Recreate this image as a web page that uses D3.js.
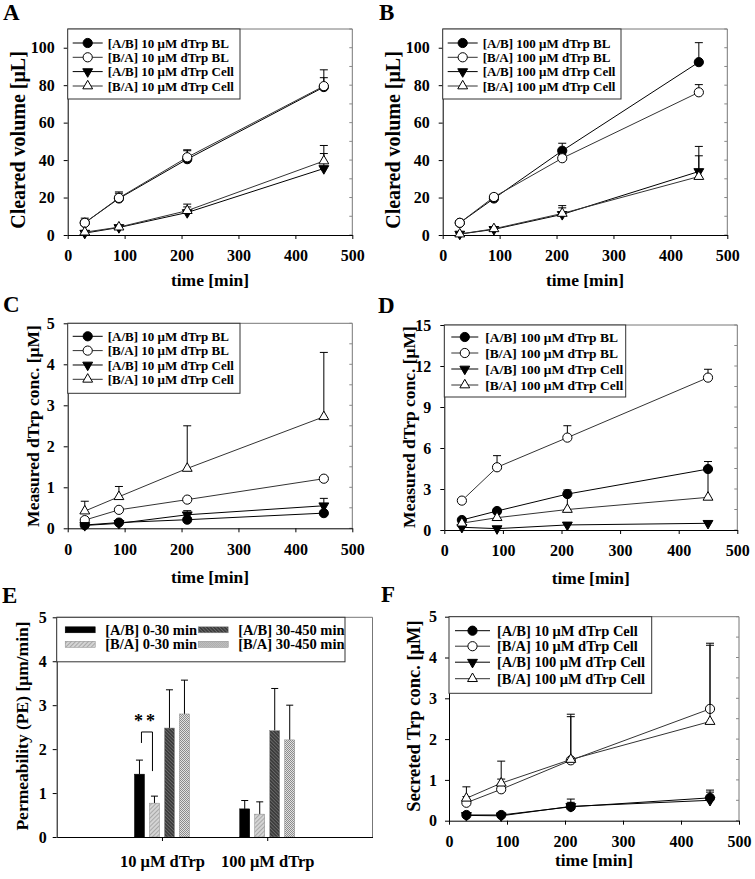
<!DOCTYPE html>
<html><head><meta charset="utf-8">
<script src="https://cdn.jsdelivr.net/npm/d3@7"></script>
<style>
body{margin:0;background:#fff}
svg{display:block}
text{font-family:"Liberation Serif","Times New Roman",serif;font-weight:bold}
</style>
</head><body>
<svg id="c" width="755" height="879"></svg>
<script>
// ---------------- DATA ----------------
const timePoints = [30, 90, 210, 450];
const xTickValues = [0, 100, 200, 300, 400, 500];

// Panel A: cleared volume, 10 µM
const aLabels = ["[A/B] 10 μM dTrp BL", "[B/A] 10 μM dTrp BL", "[A/B] 10 μM dTrp Cell", "[B/A] 10 μM dTrp Cell"];
const aABBL = [6.5, 19.5, 40.5, 79.0];   const aABBLsd = [2.5, 3.5, 4.5, 5.0];
const aBABL = [6.5, 19.8, 41.5, 79.5];   const aBABLsd = [1.5, 2.5, 4.0, 8.7];
const aABCell = [1.0, 4.0, 12.0, 35.5];  const aABCellsd = [0.5, 0.8, 3.0, 8.0];
const aBACell = [1.5, 4.2, 13.0, 39.5];  const aBACellsd = [0.5, 0.8, 3.5, 8.3];
const aYTicks = [0, 20, 40, 60, 80, 100];

// Panel B: cleared volume, 100 µM
const bLabels = ["[A/B] 100 μM dTrp BL", "[B/A] 100 μM dTrp BL", "[A/B] 100 μM dTrp Cell", "[B/A] 100 μM dTrp Cell"];
const bABBL = [6.5, 19.5, 45.0, 92.3];   const bABBLsd = [1.0, 1.5, 4.0, 10.4];
const bBABL = [6.5, 20.3, 41.0, 76.2];   const bBABLsd = [1.0, 1.5, 2.0, 4.1];
const bABCell = [0.5, 3.0, 11.0, 33.9];  const bABCellsd = [0.3, 0.8, 4.7, 13.4];
const bBACell = [0.5, 3.3, 11.5, 31.2];  const bBACellsd = [0.3, 0.8, 3.0, 11.1];
const bYTicks = [0, 20, 40, 60, 80, 100];

// Panel C: measured dTrp conc., 10 µM
const cLabels = aLabels;
const cABBL = [0.08, 0.14, 0.21, 0.37];  const cABBLsd = [0.02, 0.02, 0.05, 0.05];
const cBABL = [0.20, 0.45, 0.70, 1.21];  const cBABLsd = [0.03, 0.03, 0.04, 0.05];
const cABCell = [0.07, 0.12, 0.33, 0.55]; const cABCellsd = [0.03, 0.03, 0.10, 0.18];
const cBACell = [0.42, 0.77, 1.46, 2.72]; const cBACellsd = [0.24, 0.25, 1.04, 1.57];
const cYTicks = [0, 1, 2, 3, 4, 5];

// Panel D: measured dTrp conc., 100 µM
const dLabels = bLabels;
const dABBL = [0.73, 1.39, 2.63, 4.46];  const dABBLsd = [0.10, 0.15, 0.30, 0.55];
const dBABL = [2.15, 4.59, 6.76, 11.15]; const dBABLsd = [0.15, 0.85, 0.87, 0.61];
const dABCell = [0.20, 0.10, 0.37, 0.49]; const dABCellsd = [0.05, 0.05, 0.05, 0.05];
const dBACell = [0.50, 0.90, 1.50, 2.39]; const dBACellsd = [0.20, 0.30, 1.10, 2.00];
const dYTicks = [0, 3, 6, 9, 12, 15];

// Panel E: permeability bars
const eCategories = ["10 μM dTrp", "100 μM dTrp"];
const eSeriesNames = ["[A/B] 0-30 min", "[B/A] 0-30 min", "[A/B] 30-450 min", "[B/A] 30-450 min"];
const eAB030 = [1.43, 0.64];   const eAB030sd = [0.32, 0.19];
const eBA030 = [0.77, 0.52];   const eBA030sd = [0.16, 0.28];
const eAB30450 = [2.48, 2.42]; const eAB30450sd = [0.87, 0.96];
const eBA30450 = [2.80, 2.21]; const eBA30450sd = [0.77, 0.79];
const eYTicks = [0, 1, 2, 3, 4, 5];

// Panel F: secreted Trp conc.
const fLabels = ["[A/B] 10 μM dTrp Cell", "[B/A] 10 μM dTrp Cell", "[A/B] 100 μM dTrp Cell", "[B/A] 100 μM dTrp Cell"];
const fAB10 = [0.14, 0.14, 0.34, 0.56];  const fAB10sd = [0.03, 0.03, 0.19, 0.19];
const fBA10 = [0.44, 0.77, 1.48, 2.74];  const fBA10sd = [0.15, 0.25, 1.07, 1.61];
const fAB100 = [0.13, 0.12, 0.35, 0.50]; const fAB100sd = [0.03, 0.03, 0.10, 0.20];
const fBA100 = [0.55, 0.92, 1.50, 2.43]; const fBA100sd = [0.28, 0.54, 1.11, 1.87];
const fYTicks = [0, 1, 2, 3, 4, 5];

// ---------------- DRAWING ----------------
const svg = d3.select("#c");
const kinds = ["circleFilled", "circleOpen", "triDownFilled", "triUpOpen"];
const lineColors = ["#000", "#333", "#000", "#333"];
const intFmt = d3.format("d");

function drawMarker(g, kind, cx, cy) {
  if (kind === "circleFilled" || kind === "circleOpen") {
    g.append("circle").attr("cx", cx).attr("cy", cy).attr("r", 4.6)
      .attr("fill", kind === "circleFilled" ? "#000" : "#fff")
      .attr("stroke", "#000").attr("stroke-width", 1);
  } else {
    const down = kind === "triDownFilled";
    g.append("path").attr("d", d3.symbol(d3.symbolTriangle, 42)())
      .attr("transform", `translate(${cx},${cy})${down ? " rotate(180)" : ""}`)
      .attr("fill", down ? "#000" : "#fff")
      .attr("stroke", "#000").attr("stroke-width", 1);
  }
}

function styleAxis(g, fs) {
  g.attr("font-size", fs).attr("font-family", null);
  g.selectAll("text").attr("fill", "#000");
  g.select(".domain").attr("stroke", "#000");
  g.selectAll(".tick line").attr("stroke", "#000");
}

function letter(t, x, y) {
  svg.append("text").attr("x", x).attr("y", y).attr("font-size", 23).text(t);
}

function yTitle(t, x, y, fs) {
  svg.append("text").attr("transform", `translate(${x},${y}) rotate(-90)`)
    .attr("text-anchor", "middle").attr("dy", "0.35em").attr("font-size", fs).text(t);
}

function linePanel(cfg) {
  const g = svg.append("g");
  const x = d3.scaleLinear().domain([0, 500]).range([cfg.left, cfg.right]);
  const y = d3.scaleLinear().domain([0, cfg.yMax]).range([cfg.bottom, cfg.top]);

  g.append("line").attr("x1", cfg.left).attr("x2", cfg.right).attr("y1", cfg.top).attr("y2", cfg.top)
    .attr("stroke", "#777");
  g.append("line").attr("x1", cfg.right).attr("x2", cfg.right).attr("y1", cfg.top).attr("y2", cfg.bottom)
    .attr("stroke", "#777");
  const minor = d3.range(0, cfg.yMax + 1e-9, cfg.minor);
  g.selectAll(null).data(minor).join("line")
    .attr("x1", cfg.right).attr("x2", cfg.right - 3)
    .attr("y1", d => y(d)).attr("y2", d => y(d)).attr("stroke", "#888");

  const gx = g.append("g").attr("transform", `translate(0,${cfg.bottom})`)
    .call(d3.axisBottom(x).tickValues(xTickValues).tickFormat(intFmt).tickSize(4).tickPadding(11).tickSizeOuter(0));
  styleAxis(gx, 16);
  const gy = g.append("g").attr("transform", `translate(${cfg.left},0)`)
    .call(d3.axisLeft(y).tickValues(cfg.yTicks).tickFormat(intFmt).tickSize(4).tickPadding(cfg.yPad).tickSizeOuter(0));
  styleAxis(gy, 16);

  cfg.series.forEach((s, i) => {
    const pts = timePoints.map((t, j) => ({ x: x(t), y: y(s.vals[j]), e: y(s.vals[j] + s.sd[j]) }));
    const sg = g.append("g");
    pts.forEach(p => {
      sg.append("line").attr("x1", p.x).attr("x2", p.x).attr("y1", p.y).attr("y2", p.e).attr("stroke", "#000");
      sg.append("line").attr("x1", p.x - 4).attr("x2", p.x + 4).attr("y1", p.e).attr("y2", p.e).attr("stroke", "#000");
    });
    sg.append("path").datum(pts)
      .attr("d", d3.line().x(d => d.x).y(d => d.y))
      .attr("fill", "none").attr("stroke", lineColors[i]).attr("stroke-width", 1);
    pts.forEach(p => drawMarker(sg, kinds[i], p.x, p.y));
  });

  const L = cfg.legend;
  const lg = g.append("g").attr("transform", `translate(${cfg.left},${cfg.top})`);
  lg.append("rect").attr("x", 0).attr("y", 0).attr("width", L.w).attr("height", L.h)
    .attr("fill", "#fff").attr("stroke", "#333");
  cfg.series.forEach((s, i) => {
    const ry = L.rows[i];
    lg.append("line").attr("x1", L.l0).attr("x2", L.l1).attr("y1", ry).attr("y2", ry)
      .attr("stroke", lineColors[i]);
    drawMarker(lg, kinds[i], (L.l0 + L.l1) / 2, ry);
    lg.append("text").attr("x", L.tx).attr("y", ry).attr("dy", "0.35em")
      .attr("font-size", L.fs).text(s.label);
  });

  svg.append("text").attr("x", (cfg.left + cfg.right) / 2).attr("y", cfg.xTitleY)
    .attr("dy", "0.35em").attr("text-anchor", "middle").attr("font-size", 17.5).text("time [min]");
  yTitle(cfg.yTitle, cfg.yTitleX, cfg.yTitleY, cfg.yTitleFs);
  letter(cfg.letter, cfg.letterX, cfg.letterY);
}

function mk(labels, vals, sds) {
  return labels.map((l, i) => ({ label: l, vals: vals[i], sd: sds[i] }));
}

linePanel({
  left: 67.7, right: 352.3, top: 29, bottom: 235, yMax: 110, yTicks: aYTicks, minor: 10, yPad: 9,
  series: mk(aLabels, [aABBL, aBABL, aABCell, aBACell], [aABBLsd, aBABLsd, aABCellsd, aBACellsd]),
  legend: { w: 172.3, h: 70, rows: [14, 28.3, 42.6, 57], l0: 5, l1: 35, tx: 40, fs: 13 },
  xTitleY: 280, yTitle: "Cleared volume [μL]", yTitleX: 18, yTitleY: 140, yTitleFs: 20,
  letter: "A", letterX: 3, letterY: 20
});
linePanel({
  left: 442.7, right: 727.3, top: 29, bottom: 235, yMax: 110, yTicks: bYTicks, minor: 10, yPad: 9,
  series: mk(bLabels, [bABBL, bBABL, bABCell, bBACell], [bABBLsd, bBABLsd, bABCellsd, bBACellsd]),
  legend: { w: 178.3, h: 70, rows: [14, 28.3, 42.6, 57], l0: 5, l1: 35, tx: 40, fs: 13 },
  xTitleY: 280, yTitle: "Cleared volume [μL]", yTitleX: 393, yTitleY: 140, yTitleFs: 20,
  letter: "B", letterX: 379, letterY: 20
});
linePanel({
  left: 67.7, right: 352.3, top: 323.3, bottom: 528.3, yMax: 5, yTicks: cYTicks, minor: 0.5, yPad: 9,
  series: mk(cLabels, [cABBL, cBABL, cABCell, cBACell], [cABBLsd, cBABLsd, cABCellsd, cBACellsd]),
  legend: { w: 172.3, h: 70, rows: [13, 27.3, 41.7, 56], l0: 5, l1: 35, tx: 40, fs: 13 },
  xTitleY: 577, yTitle: "Measured dTrp conc. [μM]", yTitleX: 33, yTitleY: 426, yTitleFs: 17.5,
  letter: "C", letterX: 3, letterY: 312
});
linePanel({
  left: 444.3, right: 737.3, top: 325, bottom: 530, yMax: 15, yTicks: dYTicks, minor: 1.5, yPad: 9,
  series: mk(dLabels, [dABBL, dBABL, dABCell, dBACell], [dABBLsd, dBABLsd, dABCellsd, dBACellsd]),
  legend: { w: 181.4, h: 72, rows: [12, 28, 44, 60], l0: 7, l1: 34, tx: 41, fs: 13.5 },
  xTitleY: 578, yTitle: "Measured dTrp conc. [μM]", yTitleX: 409, yTitleY: 427, yTitleFs: 17.5,
  letter: "D", letterX: 378, letterY: 313
});
linePanel({
  left: 449, right: 739, top: 616.7, bottom: 820.7, yMax: 5, yTicks: fYTicks, minor: 0.5, yPad: 8,
  series: mk(fLabels, [fAB10, fBA10, fAB100, fBA100], [fAB10sd, fBA10sd, fAB100sd, fBA100sd]),
  legend: { w: 202.7, h: 76.6, rows: [14, 29.5, 45.5, 62], l0: 6, l1: 41, tx: 48, fs: 14.5 },
  xTitleY: 860, yTitle: "Secreted Trp conc. [μM]", yTitleX: 414, yTitleY: 716, yTitleFs: 18.5,
  letter: "F", letterX: 381, letterY: 602
});

// ---------------- Panel E (bars) ----------------
(function () {
  const left = 56.7, right = 372.5, top = 617.3, bottom = 837;
  const defs = svg.append("defs");
  const p1 = defs.append("pattern").attr("id", "p1").attr("patternUnits", "userSpaceOnUse")
    .attr("width", 3).attr("height", 3).attr("patternTransform", "rotate(45)");
  p1.append("rect").attr("width", 3).attr("height", 3).attr("fill", "#d4d4d4");
  p1.append("line").attr("x1", 0).attr("x2", 0).attr("y1", 0).attr("y2", 3).attr("stroke", "#8a8a8a").attr("stroke-width", 1.2);
  const p2 = defs.append("pattern").attr("id", "p2").attr("patternUnits", "userSpaceOnUse")
    .attr("width", 2.5).attr("height", 2.5).attr("patternTransform", "rotate(-45)");
  p2.append("rect").attr("width", 2.5).attr("height", 2.5).attr("fill", "#3c3c3c");
  p2.append("line").attr("x1", 0).attr("x2", 0).attr("y1", 0).attr("y2", 2.5).attr("stroke", "#8a8a8a").attr("stroke-width", 1);
  const p3 = defs.append("pattern").attr("id", "p3").attr("patternUnits", "userSpaceOnUse")
    .attr("width", 2).attr("height", 2);
  p3.append("rect").attr("width", 2).attr("height", 2).attr("fill", "#e2e2e2");
  p3.append("rect").attr("width", 1).attr("height", 1).attr("fill", "#8c8c8c");
  p3.append("rect").attr("x", 1).attr("y", 1).attr("width", 1).attr("height", 1).attr("fill", "#8c8c8c");

  const fills = ["#000", "url(#p1)", "url(#p2)", "url(#p3)"];
  const eVals = [eAB030, eBA030, eAB30450, eBA30450];
  const eSds = [eAB030sd, eBA030sd, eAB30450sd, eBA30450sd];

  const x0 = d3.scalePoint().domain(eCategories).range([left, right]).padding(1);
  const x1 = d3.scaleBand().domain(eSeriesNames).range([-27.5, 27.5]).paddingInner(1 / 3).paddingOuter(0);
  const y = d3.scaleLinear().domain([0, 5]).range([bottom, top]);
  const g = svg.append("g");

  g.append("line").attr("x1", left).attr("x2", right).attr("y1", top).attr("y2", top).attr("stroke", "#777");
  g.append("line").attr("x1", right).attr("x2", right).attr("y1", top).attr("y2", bottom).attr("stroke", "#777");

  eSeriesNames.forEach((s, si) => {
    eCategories.forEach((c, ci) => {
      const bx = x0(c) + x1(s), bw = x1.bandwidth();
      const v = eVals[si][ci], sd = eSds[si][ci];
      const cx = bx + bw / 2;
      g.append("line").attr("x1", cx).attr("x2", cx).attr("y1", y(v)).attr("y2", y(v + sd)).attr("stroke", "#000");
      g.append("line").attr("x1", cx - 3.5).attr("x2", cx + 3.5).attr("y1", y(v + sd)).attr("y2", y(v + sd)).attr("stroke", "#000");
      g.append("rect").attr("x", bx).attr("y", y(v)).attr("width", bw).attr("height", bottom - y(v))
        .attr("fill", fills[si]).attr("stroke", si === 0 ? "#000" : "#888").attr("stroke-width", 0.5);
    });
  });

  const gx = g.append("g").attr("transform", `translate(0,${bottom})`)
    .call(d3.axisBottom(x0).tickSize(4).tickPadding(14).tickSizeOuter(0));
  styleAxis(gx, 16.5);
  const gy = g.append("g").attr("transform", `translate(${left},0)`)
    .call(d3.axisLeft(y).tickValues(eYTicks).tickFormat(intFmt).tickSize(4).tickPadding(6).tickSizeOuter(0));
  styleAxis(gy, 16);

  const c0 = eCategories[0];
  const bL = x0(c0) + x1(eSeriesNames[0]) + x1.bandwidth() / 2 + 2;
  const bR = x0(c0) + x1(eSeriesNames[1]) + x1.bandwidth() / 2 - 2;
  g.append("path")
    .attr("d", `M${bL},${y(2.14)}V${y(2.39)}H${bR}V${y(1.5)}`)
    .attr("fill", "none").attr("stroke", "#000");
  g.append("text").attr("x", (bL + bR) / 2 - 1).attr("y", y(2.5)).attr("text-anchor", "middle")
    .attr("font-size", 18).attr("letter-spacing", 3).text("**");

  const lg = g.append("g").attr("transform", `translate(${left},${top})`);
  lg.append("rect").attr("width", 288.3).attr("height", 44.5).attr("fill", "#fff").attr("stroke", "#333");
  const pos = [[8.5, 12.5], [8.5, 27], [141.5, 12.5], [141.5, 27]];
  eSeriesNames.forEach((s, i) => {
    const [px, py] = pos[i];
    lg.append("rect").attr("x", px).attr("y", py - 3).attr("width", 30).attr("height", 6)
      .attr("fill", fills[i]).attr("stroke", i === 0 ? "#000" : "#888").attr("stroke-width", 0.5);
    lg.append("text").attr("x", px + 40).attr("y", py).attr("dy", "0.35em").attr("font-size", 14.5).text(s);
  });

  yTitle("Permeability (PE) [μm/min]", 22, 726, 17.5);
  letter("E", 2, 603);
})();
</script>
</body></html>
